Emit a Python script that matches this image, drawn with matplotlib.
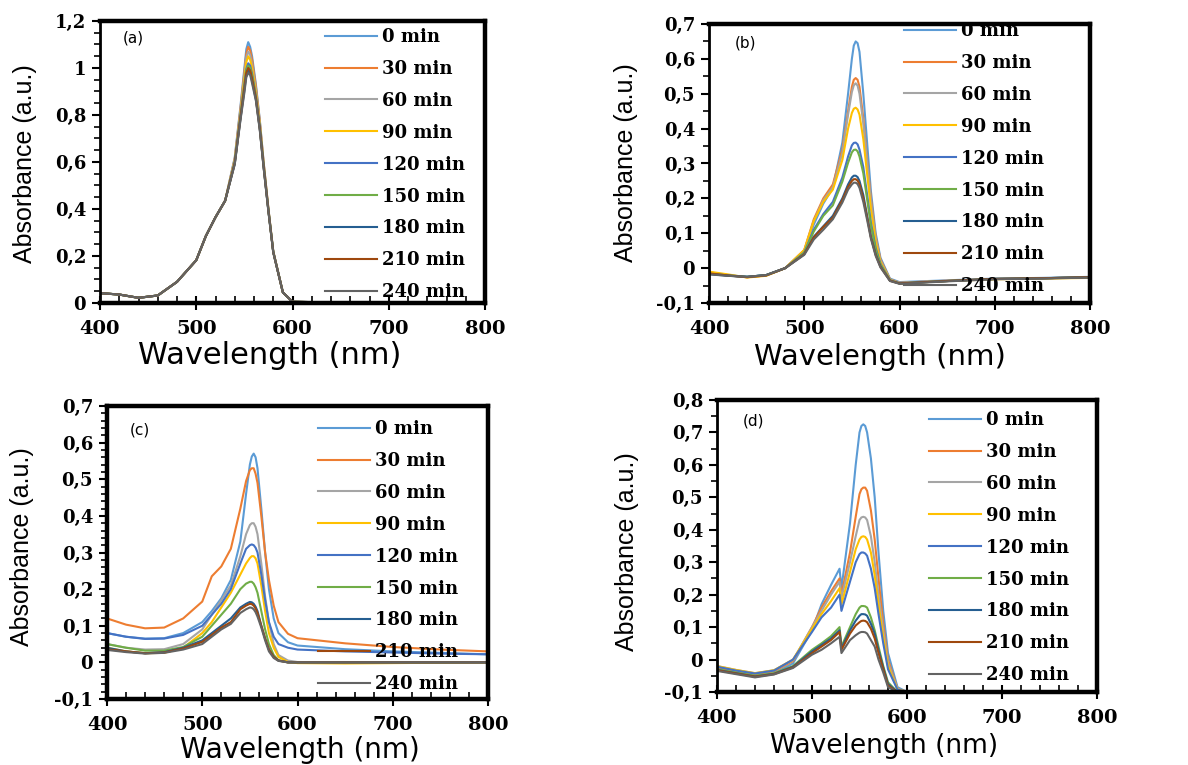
import matplotlib.pyplot as plt
from matplotlib.ticker import MultipleLocator

# wavelength grids (nm); panel (d) has a step at ~530 nm so it gets two close points there
wl = [400, 420, 440, 460, 480, 500, 510, 520, 530, 540, 546, 550, 552, 554, 556, 558,
      562, 566, 570, 575, 580, 590, 600, 650, 700, 750, 800]
wl_d = [400, 420, 440, 460, 480, 500, 510, 520, 529, 531, 540, 546, 550, 552, 554,
        556, 558, 562, 566, 570, 575, 580, 590, 600, 650, 700, 750, 800]

times = ['0 min', '30 min', '60 min', '90 min', '120 min', '150 min',
         '180 min', '210 min', '240 min']
colors = ['#5B9BD5', '#ED7D31', '#A5A5A5', '#FFC000', '#4472C4', '#70AD47',
          '#255E91', '#9E480E', '#636363']

# (a) absorbance, one row per irradiation time
abs_a = [
    [0.042, 0.036, 0.022, 0.032, 0.090, 0.182, 0.285, 0.365, 0.435, 0.620, 0.840, 1.000, 1.080, 1.110, 1.090, 1.050, 0.930, 0.780, 0.600, 0.400, 0.220, 0.045, 0.005, 0.002, 0.000, 0.000, 0.000],
    [0.042, 0.036, 0.022, 0.032, 0.090, 0.182, 0.285, 0.365, 0.435, 0.615, 0.830, 0.985, 1.060, 1.090, 1.075, 1.035, 0.920, 0.775, 0.598, 0.400, 0.220, 0.045, 0.005, 0.002, 0.000, 0.000, 0.000],
    [0.042, 0.036, 0.022, 0.032, 0.090, 0.182, 0.285, 0.365, 0.435, 0.610, 0.820, 0.970, 1.045, 1.070, 1.055, 1.015, 0.905, 0.765, 0.594, 0.398, 0.220, 0.045, 0.005, 0.002, 0.000, 0.000, 0.000],
    [0.042, 0.036, 0.022, 0.032, 0.090, 0.182, 0.285, 0.365, 0.435, 0.605, 0.810, 0.955, 1.025, 1.050, 1.035, 1.000, 0.895, 0.760, 0.590, 0.396, 0.219, 0.045, 0.005, 0.002, 0.000, 0.000, 0.000],
    [0.042, 0.036, 0.022, 0.032, 0.090, 0.182, 0.285, 0.365, 0.435, 0.600, 0.800, 0.930, 0.995, 1.020, 1.010, 0.975, 0.880, 0.750, 0.585, 0.394, 0.218, 0.045, 0.005, 0.002, 0.000, 0.000, 0.000],
    [0.042, 0.036, 0.022, 0.032, 0.090, 0.182, 0.285, 0.365, 0.435, 0.598, 0.795, 0.925, 0.990, 1.010, 1.000, 0.965, 0.875, 0.745, 0.582, 0.392, 0.217, 0.045, 0.005, 0.002, 0.000, 0.000, 0.000],
    [0.042, 0.036, 0.022, 0.032, 0.090, 0.182, 0.285, 0.365, 0.435, 0.592, 0.785, 0.905, 0.970, 0.990, 0.980, 0.945, 0.865, 0.740, 0.578, 0.390, 0.216, 0.045, 0.005, 0.002, 0.000, 0.000, 0.000],
    [0.042, 0.036, 0.022, 0.032, 0.090, 0.182, 0.285, 0.365, 0.435, 0.595, 0.790, 0.915, 0.980, 1.000, 0.990, 0.955, 0.870, 0.742, 0.580, 0.391, 0.216, 0.045, 0.005, 0.002, 0.000, 0.000, 0.000],
    [0.042, 0.036, 0.022, 0.032, 0.090, 0.182, 0.285, 0.365, 0.435, 0.590, 0.780, 0.895, 0.960, 0.980, 0.970, 0.935, 0.860, 0.735, 0.575, 0.388, 0.215, 0.045, 0.005, 0.002, 0.000, 0.000, 0.000],
]

# (b)
abs_b = [
    [-0.015, -0.020, -0.025, -0.020, 0.000, 0.048, 0.125, 0.185, 0.230, 0.360, 0.500, 0.600, 0.638, 0.650, 0.645, 0.620, 0.500, 0.360, 0.220, 0.100, 0.030, -0.030, -0.040, -0.035, -0.030, -0.028, -0.025],
    [-0.012, -0.020, -0.026, -0.021, 0.000, 0.052, 0.140, 0.200, 0.240, 0.340, 0.450, 0.520, 0.540, 0.545, 0.540, 0.520, 0.430, 0.310, 0.200, 0.090, 0.025, -0.032, -0.042, -0.036, -0.031, -0.029, -0.027],
    [-0.014, -0.021, -0.026, -0.021, 0.000, 0.050, 0.135, 0.195, 0.232, 0.330, 0.440, 0.505, 0.524, 0.530, 0.523, 0.500, 0.415, 0.300, 0.190, 0.085, 0.022, -0.033, -0.042, -0.036, -0.031, -0.029, -0.027],
    [-0.010, -0.018, -0.027, -0.022, 0.000, 0.052, 0.135, 0.190, 0.225, 0.310, 0.400, 0.445, 0.457, 0.460, 0.455, 0.440, 0.370, 0.270, 0.170, 0.075, 0.018, -0.034, -0.043, -0.037, -0.032, -0.030, -0.028],
    [-0.016, -0.021, -0.025, -0.020, 0.000, 0.045, 0.110, 0.155, 0.190, 0.260, 0.320, 0.352, 0.359, 0.360, 0.355, 0.340, 0.290, 0.210, 0.130, 0.058, 0.012, -0.035, -0.043, -0.037, -0.031, -0.029, -0.026],
    [-0.016, -0.021, -0.025, -0.020, 0.000, 0.044, 0.105, 0.150, 0.180, 0.248, 0.302, 0.332, 0.339, 0.340, 0.335, 0.320, 0.272, 0.198, 0.122, 0.052, 0.010, -0.035, -0.044, -0.037, -0.031, -0.029, -0.026],
    [-0.017, -0.022, -0.025, -0.020, 0.000, 0.040, 0.090, 0.120, 0.150, 0.200, 0.240, 0.260, 0.265, 0.265, 0.261, 0.250, 0.210, 0.150, 0.090, 0.040, 0.005, -0.036, -0.044, -0.037, -0.031, -0.029, -0.026],
    [-0.015, -0.021, -0.026, -0.021, 0.000, 0.040, 0.088, 0.118, 0.145, 0.195, 0.233, 0.250, 0.255, 0.255, 0.251, 0.240, 0.200, 0.145, 0.088, 0.038, 0.004, -0.036, -0.044, -0.037, -0.031, -0.029, -0.026],
    [-0.018, -0.022, -0.025, -0.020, 0.000, 0.038, 0.082, 0.110, 0.140, 0.188, 0.225, 0.240, 0.245, 0.245, 0.241, 0.230, 0.190, 0.138, 0.084, 0.035, 0.002, -0.037, -0.045, -0.038, -0.032, -0.030, -0.027],
]

# (c)
abs_c = [
    [0.080, 0.070, 0.065, 0.066, 0.080, 0.110, 0.140, 0.175, 0.225, 0.330, 0.460, 0.540, 0.562, 0.570, 0.560, 0.530, 0.420, 0.300, 0.200, 0.120, 0.080, 0.055, 0.046, 0.036, 0.030, 0.026, 0.022],
    [0.120, 0.103, 0.093, 0.095, 0.120, 0.166, 0.235, 0.262, 0.310, 0.420, 0.495, 0.525, 0.530, 0.530, 0.515, 0.490, 0.400, 0.300, 0.225, 0.155, 0.110, 0.078, 0.066, 0.052, 0.042, 0.035, 0.030],
    [0.050, 0.040, 0.035, 0.036, 0.050, 0.090, 0.130, 0.170, 0.210, 0.290, 0.350, 0.375, 0.380, 0.380, 0.370, 0.350, 0.270, 0.180, 0.110, 0.050, 0.020, 0.005, 0.001, 0.000, 0.000, 0.000, 0.000],
    [0.040, 0.030, 0.025, 0.026, 0.040, 0.080, 0.110, 0.150, 0.190, 0.240, 0.270, 0.285, 0.290, 0.290, 0.284, 0.270, 0.210, 0.140, 0.080, 0.040, 0.015, 0.001, -0.002, -0.003, -0.002, -0.001, 0.000],
    [0.080, 0.070, 0.064, 0.065, 0.075, 0.100, 0.130, 0.160, 0.200, 0.270, 0.310, 0.320, 0.322, 0.320, 0.313, 0.300, 0.240, 0.170, 0.110, 0.070, 0.050, 0.040, 0.035, 0.030, 0.027, 0.024, 0.022],
    [0.050, 0.040, 0.032, 0.032, 0.042, 0.070, 0.100, 0.130, 0.160, 0.200, 0.215, 0.220, 0.220, 0.215, 0.205, 0.190, 0.140, 0.090, 0.050, 0.020, 0.006, 0.000, 0.000, 0.000, 0.000, 0.000, 0.000],
    [0.040, 0.030, 0.025, 0.028, 0.040, 0.060, 0.080, 0.100, 0.120, 0.150, 0.160, 0.165, 0.164, 0.160, 0.152, 0.140, 0.100, 0.065, 0.035, 0.015, 0.005, 0.000, 0.000, 0.000, 0.000, 0.000, 0.000],
    [0.036, 0.030, 0.025, 0.027, 0.038, 0.056, 0.075, 0.095, 0.110, 0.145, 0.155, 0.160, 0.159, 0.155, 0.147, 0.135, 0.100, 0.065, 0.035, 0.015, 0.005, 0.000, 0.000, 0.000, 0.000, 0.000, 0.000],
    [0.034, 0.028, 0.024, 0.026, 0.035, 0.050, 0.070, 0.090, 0.105, 0.135, 0.145, 0.150, 0.149, 0.145, 0.137, 0.125, 0.095, 0.060, 0.030, 0.012, 0.004, 0.000, 0.000, 0.000, 0.000, 0.000, 0.000],
]

# (d)
abs_d = [
    [-0.030, -0.040, -0.050, -0.042, -0.012, 0.090, 0.170, 0.230, 0.280, 0.220, 0.420, 0.600, 0.700, 0.720, 0.725, 0.720, 0.700, 0.620, 0.500, 0.330, 0.150, 0.020, -0.085, -0.100, -0.100, -0.100, -0.099, -0.097],
    [-0.025, -0.036, -0.045, -0.036, -0.005, 0.100, 0.160, 0.210, 0.250, 0.200, 0.330, 0.440, 0.510, 0.525, 0.530, 0.530, 0.520, 0.460, 0.370, 0.250, 0.110, 0.000, -0.090, -0.100, -0.100, -0.100, -0.099, -0.097],
    [-0.020, -0.032, -0.042, -0.033, -0.002, 0.100, 0.150, 0.200, 0.240, 0.190, 0.300, 0.380, 0.430, 0.438, 0.440, 0.438, 0.430, 0.380, 0.300, 0.200, 0.090, -0.010, -0.090, -0.100, -0.100, -0.100, -0.099, -0.097],
    [-0.020, -0.032, -0.042, -0.033, 0.000, 0.095, 0.140, 0.180, 0.220, 0.170, 0.270, 0.340, 0.370, 0.378, 0.380, 0.378, 0.370, 0.330, 0.260, 0.170, 0.070, -0.020, -0.092, -0.100, -0.100, -0.100, -0.099, -0.097],
    [-0.022, -0.034, -0.043, -0.034, 0.000, 0.085, 0.130, 0.160, 0.200, 0.150, 0.240, 0.300, 0.325, 0.330, 0.330, 0.327, 0.320, 0.280, 0.220, 0.140, 0.050, -0.030, -0.093, -0.100, -0.100, -0.100, -0.099, -0.097],
    [-0.030, -0.040, -0.050, -0.042, -0.020, 0.030, 0.050, 0.072, 0.100, 0.040, 0.100, 0.140, 0.160, 0.165, 0.165, 0.164, 0.160, 0.130, 0.090, 0.040, -0.020, -0.070, -0.100, -0.100, -0.100, -0.100, -0.099, -0.097],
    [-0.032, -0.042, -0.052, -0.044, -0.022, 0.025, 0.045, 0.065, 0.090, 0.035, 0.090, 0.120, 0.135, 0.140, 0.140, 0.139, 0.135, 0.110, 0.080, 0.030, -0.025, -0.075, -0.100, -0.100, -0.100, -0.100, -0.099, -0.097],
    [-0.033, -0.043, -0.053, -0.045, -0.024, 0.020, 0.040, 0.060, 0.085, 0.030, 0.080, 0.105, 0.115, 0.119, 0.120, 0.119, 0.115, 0.095, 0.065, 0.020, -0.030, -0.080, -0.100, -0.100, -0.100, -0.100, -0.099, -0.097],
    [-0.035, -0.045, -0.055, -0.046, -0.026, 0.015, 0.030, 0.050, 0.070, 0.020, 0.060, 0.075, 0.083, 0.085, 0.085, 0.084, 0.080, 0.060, 0.040, 0.000, -0.040, -0.085, -0.100, -0.100, -0.100, -0.100, -0.099, -0.097],
]

xticks = [400, 500, 600, 700, 800]
yticks_a = [0, 0.2, 0.4, 0.6, 0.8, 1.0, 1.2]
ylabels_a = ['0', '0,2', '0,4', '0,6', '0,8', '1', '1,2']
yticks_bc = [-0.1, 0, 0.1, 0.2, 0.3, 0.4, 0.5, 0.6, 0.7]
ylabels_bc = ['-0,1', '0', '0,1', '0,2', '0,3', '0,4', '0,5', '0,6', '0,7']
yticks_d = [-0.1, 0, 0.1, 0.2, 0.3, 0.4, 0.5, 0.6, 0.7, 0.8]
ylabels_d = ['-0,1', '0', '0,1', '0,2', '0,3', '0,4', '0,5', '0,6', '0,7', '0,8']

W, H = 1188, 765
fig = plt.figure(figsize=(W / 100, H / 100), dpi=100)

TICK_FONT = dict(family='DejaVu Serif', weight='bold', size=14)


def px(x, y):
    # pixel (from top-left) -> figure fraction
    return x / W, 1 - y / H


def panel(box, grid, rows, ylim, yticks, ylabels, yminor, tag, tag_xy,
          leg_xy, xlab_xy, ylab_xy, xlab_size=21, left_lw=2.0):
    left, top, right, bottom = box
    ax = fig.add_axes([left / W, 1 - bottom / H, (right - left) / W, (bottom - top) / H])
    for vals, lab, col in zip(rows, times, colors):
        ax.plot(grid, vals, color=col, lw=1.5, label=lab)

    ax.set_xlim(400, 800)
    ax.set_ylim(*ylim)
    ax.set_xticks(xticks)
    ax.set_xticklabels([str(t) for t in xticks], fontdict=TICK_FONT)
    ax.set_yticks(yticks)
    ax.set_yticklabels(ylabels, fontdict=dict(TICK_FONT, size=13))
    ax.xaxis.set_minor_locator(MultipleLocator(20))
    ax.yaxis.set_minor_locator(MultipleLocator(yminor))
    ax.tick_params(axis='x', which='major', direction='inout', length=10, width=1.5, pad=7)
    ax.tick_params(axis='x', which='minor', direction='in', length=5, width=1.2)
    ax.tick_params(axis='y', which='major', direction='out', length=6, width=1.5, pad=4)
    ax.tick_params(axis='y', which='minor', direction='out', length=4, width=1.2)

    for side in ('top', 'right', 'bottom'):
        ax.spines[side].set_linewidth(3.2)
    ax.spines['left'].set_linewidth(left_lw)

    fig.text(*px(*tag_xy), tag, ha='center', va='center', fontsize=11,
             family='DejaVu Sans')

    # legend anchored at the start of the first handle
    lx, ly = px(leg_xy[0], leg_xy[1] - 10)
    ax.legend(loc='upper left', bbox_to_anchor=(lx, ly), bbox_transform=fig.transFigure,
              frameon=False, borderpad=0, borderaxespad=0, handlelength=2.9,
              handletextpad=0.25, labelspacing=0.77,
              prop=dict(family='DejaVu Serif', weight='bold', size=13))

    fig.text(*px(*xlab_xy), 'Wavelength (nm)', ha='center', va='center',
             fontsize=xlab_size, family='DejaVu Sans')
    fig.text(*px(*ylab_xy), 'Absorbance (a.u.)', ha='center', va='center',
             rotation=90, fontsize=18, family=['Liberation Sans', 'DejaVu Sans'])
    return ax


panel((100, 21, 485, 303), wl, abs_a, (0, 1.2), yticks_a, ylabels_a, 0.05,
      '(a)', (133, 38), (325, 38), (270, 355), (25, 164), xlab_size=22)
panel((709, 24, 1090, 303), wl, abs_b, (-0.1, 0.7), yticks_bc, ylabels_bc, 0.05,
      '(b)', (746, 43), (904, 32), (880, 357), (626, 163))
panel((107, 406, 488, 699), wl, abs_c, (-0.1, 0.7), yticks_bc, ylabels_bc, 0.02,
      '(c)', (140, 430), (318, 430), (300, 750), (22, 547), xlab_size=20, left_lw=3.2)
panel((717, 400, 1097, 692), wl_d, abs_d, (-0.1, 0.8), yticks_d, ylabels_d, 0.05,
      '(d)', (753, 421), (929, 421), (884, 746), (627, 552), xlab_size=19)

fig.savefig('out.png', dpi=100)
